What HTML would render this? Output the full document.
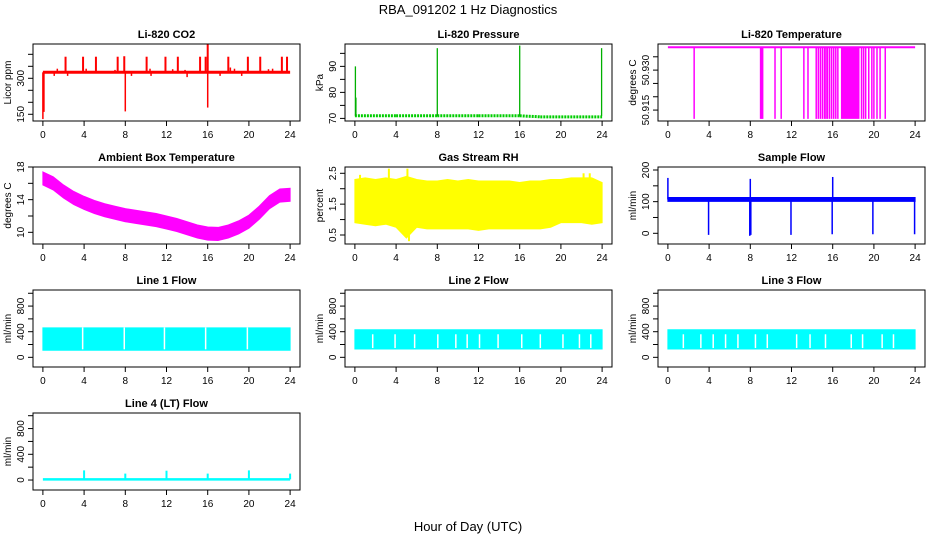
<!DOCTYPE html>
<html><head><meta charset="utf-8"><style>
html,body{margin:0;padding:0;background:#fff}
svg{display:block;font-family:"Liberation Sans",sans-serif}
</style></head><body>
<svg id="chart" width="936" height="540" viewBox="0 0 936 540">
<text x="468" y="14" text-anchor="middle" font-size="13">RBA_091202  1 Hz Diagnostics</text>
<text x="468" y="531" text-anchor="middle" font-size="13">Hour of Day (UTC)</text>
</svg>
<script>
// ---- data arrays ----
const xTicks=[0,4,8,12,16,20,24];
const co2Base=325;
const co2UpHours=[2.2,3.9,5.15,7.26,7.9,10.07,11.9,13.1,15.26,15.8,16.0,18.0,19.9,21.1,23.2,23.7];
const co2UpVals=[390,390,390,390,392,390,390,390,390,390,443,390,390,390,390,390];
const co2SmallHours=[1.4,4.2,7.0,10.4,12.6,13.8,18.2,18.6,21.9,22.3];
const co2SmallVals=[340,340,335,340,338,335,345,340,338,340];
const co2DownHours=[0,0.1,8.0,16.0,1.1,2.4,8.6,10.5,14.0,17.2,19.3];
const co2DownVals=[130,160,162,178,310,310,310,310,305,310,310];
const presHours=[0,4,8,12,16,18,24];
const presVals=[71,71,71,71,71,70.6,70.6];
const presSpikeHours=[0.05,0.1,8.0,16.0,23.95];
const presSpikeVals=[90,78,97,98,97];
const tempTop=50.9386, tempLow=50.9117;
const tempDropHours=[2.55,9.0,9.1,9.2,10.4,11.0,13.2,13.6,14.4,14.6,14.8,15.0,15.2,15.35,15.5,15.7,15.9,16.1,16.3,16.5,18.8,19.0,19.2,19.5,19.8,20.0,20.3,20.6,21.1];
const tempBlock=[16.8,18.6];
const ambHours=[0,1,2,3,4,5,6,7,8,9,10,11,12,13,14,15,16,17,18,19,20,21,22,23,24];
const ambCenter=[16.6,16.0,15.0,14.2,13.6,13.1,12.7,12.4,12.1,11.9,11.7,11.5,11.2,10.9,10.5,10.1,9.85,9.8,10.1,10.6,11.3,12.4,13.7,14.5,14.6];
const rhMax=[2.3,2.35,2.3,2.35,2.3,2.4,2.3,2.25,2.25,2.3,2.25,2.3,2.25,2.25,2.25,2.25,2.2,2.25,2.25,2.3,2.3,2.35,2.35,2.35,2.2];
const rhMin=[0.9,0.85,0.8,0.85,0.75,0.4,0.75,0.7,0.7,0.7,0.7,0.7,0.65,0.7,0.7,0.7,0.7,0.7,0.7,0.75,0.9,0.9,0.9,0.85,0.9];
const rhSpikeHours=[0.5,3.3,5.1,5.25,22.2,22.8];
const rhSpikeVals=[2.45,2.65,2.65,0.3,2.5,2.5];
const sfBase=107;
const sfDropHours=[3.95,7.95,8.05,11.95,15.95,19.9,23.95];
const sfDropVals=[-5,-8,-5,-5,-3,-3,-3];
const sfUpHours=[0,8,16];
const sfUpVals=[175,172,178];
const flow1Gaps=[3.86,7.9,11.8,15.8,19.85];
const flow2Gaps=[1.73,3.9,5.8,8.05,9.8,10.9,12.1,13.9,16.2,18.0,20.2,21.8,22.9];
const flow3Gaps=[1.5,3.2,4.4,5.6,6.8,8.5,9.65,12.5,13.8,15.3,17.8,18.9,20.8,21.9];
const flowTop=[460,430,430], flowBottom=[110,130,130];
const lt4Base=10;
const lt4SpikeHours=[4,8,12,16,20,24];
const lt4SpikeVals=[150,100,145,100,150,100];

// ---- layout ----
const svg=document.getElementById('chart');
const NS='http://www.w3.org/2000/svg';
const cols=[33,345,658], W=267, tops=[44,167,290,413], H=77;
function mk(tag,attrs,parent){const e=document.createElementNS(NS,tag);for(const k in attrs)e.setAttribute(k,attrs[k]);(parent||svg).appendChild(e);return e;}
function scales(c,r,ylim){return {x:h=>cols[c]+(h+0.96)/25.92*W,y:v=>tops[r]+H-(v-ylim[0])/(ylim[1]-ylim[0])*H};}
let pid=0;
function panel(c,r,ylim,title,ylab,yticks,ylabels,name){
  const s=scales(c,r,ylim);const L=cols[c],T=tops[r];
  const g=mk('g',{});
  
  
  const t=mk('text',{x:L+W/2,y:T-6,'text-anchor':'middle','font-size':11,'font-weight':'bold'},g);t.textContent=title;
  
  
  const yl=mk('text',{x:L-22,y:T+H/2,'text-anchor':'middle','font-size':10,transform:`rotate(-90 ${L-22} ${T+H/2})`},g);yl.textContent=ylab;
  
  
  const xa=mk('g',{stroke:'#000','stroke-width':1},g);
  
  
  const B=T+H;
  xTicks.forEach(h=>{mk('line',{x1:s.x(h),x2:s.x(h),y1:B,y2:B+5},xa);
    const tx=mk('text',{x:s.x(h),y:B+17,'text-anchor':'middle','font-size':10,stroke:'none'},xa);tx.textContent=h;
    
    });
  const ya=mk('g',{stroke:'#000','stroke-width':1},g);
  
  
  yticks.forEach(v=>{const y=s.y(v);mk('line',{x1:L,x2:L-5,y1:y,y2:y},ya);});
  ylabels.forEach(v=>{const y=s.y(v);const tx=mk('text',{x:L-9,y:y,'text-anchor':'middle','font-size':10,stroke:'none',transform:`rotate(-90 ${L-9} ${y})`},ya);tx.textContent=v;
    
    });
  const id='clip'+(pid++);
  const cp=mk('clipPath',{id:id},g);mk('rect',{x:L,y:T,width:W,height:H},cp);
  const m=mk('g',{'clip-path':`url(#${id})`},g);
  
  
  const box=mk('rect',{x:L,y:T,width:W,height:H,fill:'none',stroke:'#000','stroke-width':1},g);
  
  
  return {s,m};
}
function vline(p,h,v1,v2,col,w){const l=mk('line',{x1:p.s.x(h),x2:p.s.x(h),y1:p.s.y(v1),y2:p.s.y(v2),stroke:col,'stroke-width':w||1.5},p.m);
  
  return l;}
function hline(p,h1,h2,v,col,w,dash){const l=mk('line',{x1:p.s.x(h1),x2:p.s.x(h2),y1:p.s.y(v),y2:p.s.y(v),stroke:col,'stroke-width':w||2},p.m);if(dash)l.setAttribute('stroke-dasharray',dash);
  
  return l;}
function band(p,hs,lo,hi,col){let pts=hs.map((h,i)=>p.s.x(h)+','+p.s.y(hi[i]));for(let i=hs.length-1;i>=0;i--)pts.push(p.s.x(hs[i])+','+p.s.y(lo[i]));
  const pg=mk('polygon',{points:pts.join(' '),fill:col,stroke:col,'stroke-width':1},p.m);
  
  return pg;}

// CO2
let p=panel(0,0,[122,443],'Li-820 CO2','Licor ppm',[150,200,250,300,350,400],[150,300],'co2');
hline(p,0,24,co2Base,'#ff0000',3);
co2UpHours.forEach((h,i)=>vline(p,h,co2Base,co2UpVals[i],'#ff0000',2));
co2SmallHours.forEach((h,i)=>vline(p,h,co2Base,co2SmallVals[i],'#ff0000',1.5));
co2DownHours.forEach((h,i)=>vline(p,h,co2Base,co2DownVals[i],'#ff0000',1.5));
// Pressure
p=panel(1,0,[69,98.6],'Li-820 Pressure','kPa',[70,75,80,85,90,95],[70,80,90],'pressure');
for(let i=0;i<presHours.length-1;i++){const l=mk('line',{x1:p.s.x(presHours[i]),x2:p.s.x(presHours[i+1]),y1:p.s.y(presVals[i]),y2:p.s.y(presVals[i+1]),stroke:'#00cd00','stroke-width':3,'stroke-dasharray':'2,1'},p.m);
  
  }
presSpikeHours.forEach((h,i)=>{vline(p,h,71,presSpikeVals[i],'#00b000',1.3);});
// Li-820 Temp
p=panel(2,0,[50.9109,50.9398],'Li-820 Temperature','degrees C',[50.915,50.92,50.925,50.93,50.935],['50.915','50.930'],'li820-temp');
hline(p,0,24,tempTop,'#ff00ff',2);
tempDropHours.forEach(h=>vline(p,h,tempTop,tempLow,'#ff00ff',1.5));
{const r=mk('rect',{x:p.s.x(tempBlock[0]),y:p.s.y(tempTop),width:p.s.x(tempBlock[1])-p.s.x(tempBlock[0]),height:p.s.y(tempLow)-p.s.y(tempTop),fill:'#ff00ff'},p.m);
 
 }
// Ambient
p=panel(0,1,[8.57,18.0],'Ambient Box Temperature','degrees C',[10,12,14,16,18],[10,14,18],'ambient-temp');
band(p,ambHours,ambCenter.map(v=>v-0.8),ambCenter.map(v=>v+0.8),'#ff00ff');
// RH
p=panel(1,1,[0.208,2.704],'Gas Stream RH','percent',[0.5,1,1.5,2,2.5],[0.5,1.5,2.5],'gas-rh');
band(p,ambHours,rhMin,rhMax,'#ffff00');
rhSpikeHours.forEach((h,i)=>vline(p,h,1.5,rhSpikeVals[i],'#ffff00',2));
// Sample flow
p=panel(2,1,[-33.8,209.5],'Sample Flow','ml/min',[0,50,100,150,200],[0,100,200],'sample-flow');
band(p,[0,24],[sfBase-6,sfBase-6],[sfBase+6,sfBase+6],'#0000ff');
sfDropHours.forEach((h,i)=>vline(p,h,sfBase,sfDropVals[i],'#0000ff',1.5));
sfUpHours.forEach((h,i)=>vline(p,h,sfBase,sfUpVals[i],'#0000ff',1.5));
// Line flows
const fl=[['Line 1 Flow',flow1Gaps,'line1-flow'],['Line 2 Flow',flow2Gaps,'line2-flow'],['Line 3 Flow',flow3Gaps,'line3-flow']];
fl.forEach((f,k)=>{const q=panel(k,2,[-151,1051],f[0],'ml/min',[0,200,400,600,800,1000],[0,400,800],f[2]);
  band(q,[0,24],[flowBottom[k],flowBottom[k]],[flowTop[k],flowTop[k]],'#00ffff');
  f[1].forEach(h=>{const l=vline(q,h,k===0?flowTop[k]+5:flowTop[k]-70,flowBottom[k]+15,'#ffffff',1.5);});
});
// Line 4
p=panel(0,3,[-155,1042],'Line 4 (LT) Flow','ml/min',[0,200,400,600,800,1000],[0,400,800],'line4-flow');
hline(p,0,24,lt4Base,'#00ffff',2.5);
lt4SpikeHours.forEach((h,i)=>vline(p,h,lt4Base,lt4SpikeVals[i],'#00ffff',2));
</script>
</body></html>
